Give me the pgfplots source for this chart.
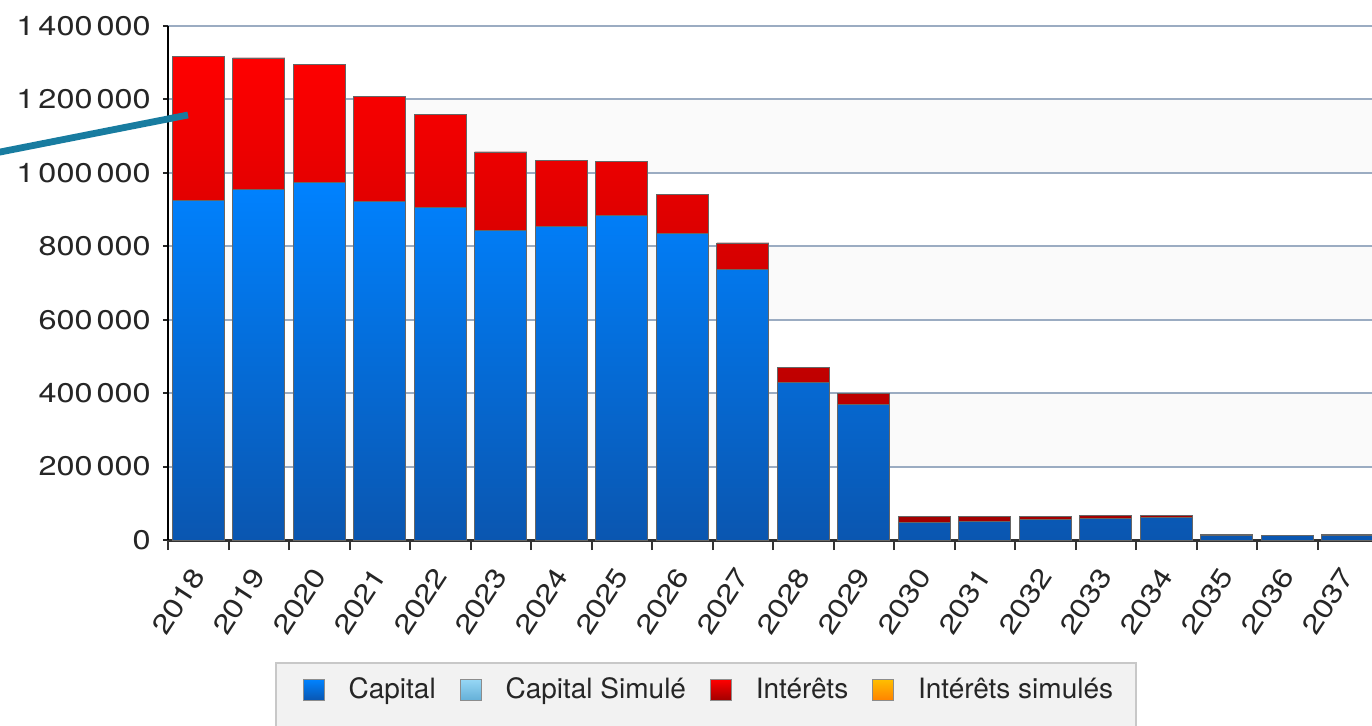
\documentclass[border=0pt]{standalone}
\usepackage{pgfplots}
\pgfplotsset{compat=1.18}
\usepackage{fontspec}
\setmainfont{TeX Gyre Heros}
\newfontfamily\tickfont[FakeStretch=1.2]{TeX Gyre Heros}

\definecolor{cap_top}{RGB}{0,130,255}
\definecolor{cap_bot}{RGB}{10,86,176}
\definecolor{int_top}{RGB}{255,0,0}
\definecolor{int_bot}{RGB}{160,0,0}
\definecolor{sim_top}{RGB}{150,215,245}
\definecolor{sim_bot}{RGB}{100,175,215}
\definecolor{isim_top}{RGB}{255,190,0}
\definecolor{isim_bot}{RGB}{255,130,0}
\definecolor{grid_c}{RGB}{155,172,194}
\definecolor{band_c}{RGB}{250,250,250}
\definecolor{leg_bg}{RGB}{242,242,242}
\definecolor{leg_bd}{RGB}{200,200,200}
\definecolor{arrow_c}{RGB}{24,124,160}

% picture coordinates in pixels of the reference (0.5pt per px, y from top)
\newcommand{\pxy}[2]{({(#1)*0.5pt},{(725-(#2))*0.5pt})}

\pgfplotsset{
  sq legend/.style={legend image code/.code={%
    \path[##1,draw=black!45,line width=0.4pt] (0pt,-5.25pt) rectangle (10.5pt,5.25pt);}},
}

\begin{document}
\begin{tikzpicture}
% light bands behind the grid
\foreach \a/\b in {99.4/172.9, 246.3/319.7, 393.1/466.6}
  \fill[band_c] \pxy{168}{\a} rectangle \pxy{1372}{\b};

% legend frame
\filldraw[fill=leg_bg, draw=leg_bd, line width=1pt] \pxy{276}{663} rectangle \pxy{1136}{760};

\begin{axis}[
    at={(84pt,92.5pt)}, anchor=south west,
    scale only axis, width=602pt, height=257pt,
    xmin=-0.5, xmax=19.4, ymin=0, ymax=1400000,
    ybar stacked, bar width=0.86,
    axis x line*=bottom, axis y line*=left,
    x axis line style={-, draw=black!80, line width=1.5pt},
    y axis line style={-, draw=black, line width=1pt},
    ytick={0,200000,...,1400000},
    ymajorgrids, grid style={draw=grid_c, line width=1pt},
    scaled y ticks=false,
    /pgf/number format/fixed,
    /pgf/number format/precision=0,
    /pgf/number format/1000 sep={\hspace{2pt}},
    /pgf/number format/assume math mode=true,
    tick align=outside, major tick length=2.5pt,
    tick style={draw=black!85, line width=1pt},
    xtick={0,...,19},
    xticklabels={2018,2019,2020,2021,2022,2023,2024,2025,2026,2027,
                 2028,2029,2030,2031,2032,2033,2034,2035,2036,2037},
    xtick style={draw=none},
    extra x ticks={-0.5,0.5,...,19.5},
    extra x tick labels={},
    extra x tick style={major tick length=5pt,
        xtick style={draw=black!80, line width=1pt}},
    tick label style={font=\tickfont\fontsize{13.5}{16}\selectfont, text=black!85},
    xticklabel style={rotate=57, anchor=east, inner sep=0pt},
    xticklabel shift=13pt,
    yticklabel style={anchor=east, inner sep=0pt},
    yticklabel shift=6pt,
    legend style={
        at={(0.4485,-0.2918)}, anchor=center,
        draw=none, fill=none,
        legend columns=4,
        font=\fontsize{14}{17}\selectfont, text=black!85,
        nodes={inner sep=0pt},
        /tikz/every odd column/.append style={column sep=12pt},
        /tikz/every even column/.append style={column sep=12pt},
    },
]

% Capital
\addplot[fill, top color=cap_top, bottom color=cap_bot, draw=black!60, line width=0.4pt, sq legend]
coordinates {
    (0,926000) (1,956000) (2,975000) (3,923000) (4,907000)
    (5,844000) (6,855000) (7,883000) (8,834000) (9,736000)
    (10,428000) (11,370000) (12,49000) (13,50000) (14,56000)
    (15,58000) (16,61000) (17,13000) (18,12000) (19,13000)
};
\addlegendentry{Capital}

\addlegendimage{sq legend, top color=sim_top, bottom color=sim_bot}
\addlegendentry{Capital Simulé}

% Interets
\addplot[fill, top color=int_top, bottom color=int_bot, draw=black!60, line width=0.4pt, sq legend]
coordinates {
    (0,390000) (1,357000) (2,320000) (3,284000) (4,251000)
    (5,213000) (6,180000) (7,147000) (8,106000) (9,73000)
    (10,43000) (11,28000) (12,14000) (13,13000) (14,7000)
    (15,8000) (16,5000) (17,1500) (18,1500) (19,1000)
};
\addlegendentry{Intérêts}

\addlegendimage{sq legend, top color=isim_top, bottom color=isim_bot}
\addlegendentry{Intérêts simulés}

\end{axis}

% pointer line at the left edge
\draw[arrow_c, line width=3.4pt] \pxy{-12}{154.4} -- \pxy{188}{115};

\pgfresetboundingbox
\path \pxy{0}{0} rectangle \pxy{1372}{725};
\end{tikzpicture}
\end{document}
